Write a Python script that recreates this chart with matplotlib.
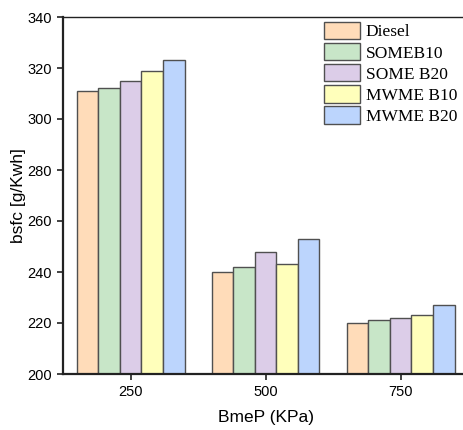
import numpy as np
import matplotlib.pyplot as plt

# bsfc values
loads = ['250', '500', '750']
series = ['Diesel', 'SOMEB10', 'SOME B20', 'MWME B10', 'MWME B20']
diesel = [311, 240, 220]
someb10 = [312, 242, 221]
someb20 = [315, 248, 222]
mwmeb10 = [319, 243, 223]
mwmeb20 = [323, 253, 227]
colors = ['#ffdcb9', '#c8e6c8', '#dccde8', '#ffffbb', '#bcd5fd']

plt.rcParams['font.family'] = ['Liberation Sans', 'DejaVu Sans']

fig = plt.figure(figsize=(4.63, 4.3), dpi=100)
ax = fig.add_axes([63/463, 1-374/430, 405/463, 357/430])

x = np.arange(len(loads))
w = 0.16
for i, (name, vals) in enumerate(zip(series, [diesel, someb10, someb20, mwmeb10, mwmeb20])):
    ax.bar(x + (i - 2)*w, vals, w, color=colors[i], edgecolor='#505050',
           linewidth=1.0, label=name, zorder=2)

ax.set_xlim(-0.5, 2.5)
ax.set_ylim(200, 340)
ax.set_xticks(x)
ax.set_xticklabels(loads)
ax.set_yticks(np.arange(200, 341, 20))
ax.tick_params(labelsize=10.5, length=4, width=1.2, pad=4, color='#222222')
ax.spines['left'].set_linewidth(1.6)
ax.spines['bottom'].set_linewidth(1.6)
ax.spines['top'].set_linewidth(1.0)
ax.spines['right'].set_visible(False)
for s in ax.spines.values():
    s.set_color('#222222')

ax.set_xlabel('BmeP (KPa)', fontsize=12.5, labelpad=8)
ax.set_ylabel('bsfc [g/Kwh]', fontsize=12.5, labelpad=1)

ax.legend(loc='upper left', bbox_to_anchor=(324/463, 1-22/430),
          bbox_transform=fig.transFigure, frameon=False, borderpad=0,
          borderaxespad=0, handlelength=2.1, handleheight=1.15,
          labelspacing=0.15, handletextpad=0.3,
          prop={'family': 'Liberation Serif', 'size': 12.5})

fig.savefig('out.png', dpi=100)
